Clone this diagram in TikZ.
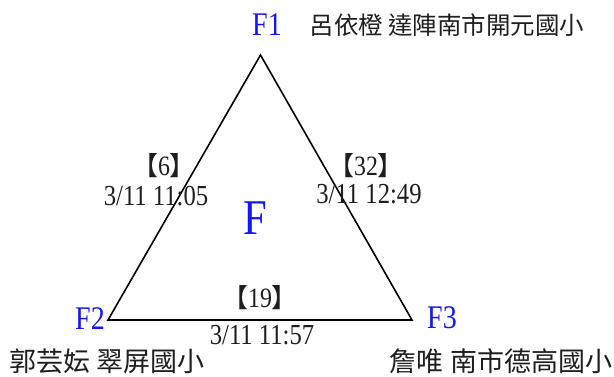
\documentclass[tikz,border=0pt]{standalone}
\usepackage{fontspec}
\setmainfont{Liberation Serif}[FakeStretch=0.85]
\newfontfamily\cjk{Noto Sans CJK TC}
\definecolor{vblue}{RGB}{20,20,255}
\definecolor{ink}{RGB}{30,30,30}
\tikzset{
  vert/.style={inner sep=0pt, text=vblue, font=\fontsize{33}{36}\selectfont},
  datelbl/.style={inner sep=0pt, text=ink, font=\fontsize{29}{31}\selectfont},
  cntlbl/.style={inner sep=0pt, text=ink, font=\fontsize{28}{30}\selectfont},
  namelbl/.style={inner sep=0pt, text=ink, font=\cjk\fontsize{24.5}{27}\selectfont},
  bignamelbl/.style={inner sep=0pt, text=ink, font=\cjk\fontsize{27}{30}\selectfont},
  edge/.style={line width=1.6pt, black, line join=miter}
}
\newcommand{\lb}{{\cjk\fontsize{26}{28}\selectfont【}}
\newcommand{\rb}{{\cjk\fontsize{26}{28}\selectfont】}}
\begin{document}
\begin{tikzpicture}[x=1pt,y=-1pt]
\useasboundingbox (0,0) rectangle (614,376);
\coordinate (A) at (260.5,55);
\coordinate (B) at (108,320);
\coordinate (C) at (412,320);
\draw[edge] (A) -- (B) -- (C) -- cycle;

\node[vert] (f1) at (267,25) {F1};
\node[vert] (f2) at (90,319) {F2};
\node[vert] (f3) at (442,318) {F3};
\node[inner sep=0pt, text=vblue, font=\fontsize{50}{54}\selectfont] (fc) at (255,218) {F};

\node[namelbl] (n1) at (447,25) {呂依橙 達陣南市開元國小};
\node[bignamelbl] (n2) at (107,361) {郭芸妘 翠屏國小};
\node[bignamelbl] (n3) at (501,361) {詹唯 南市德高國小};

\node[cntlbl] (c1) at (164,166) {\lb 6\rb};
\node[datelbl] (d1) at (156,196) {3/11 11:05};
\node[cntlbl] (c2) at (366,166) {\lb 32\rb};
\node[datelbl] (d2) at (369,194) {3/11 12:49};
\node[cntlbl] (c3) at (260,298) {\lb 19\rb};
\node[datelbl] (d3) at (262,335) {3/11 11:57};
\end{tikzpicture}
\end{document}
